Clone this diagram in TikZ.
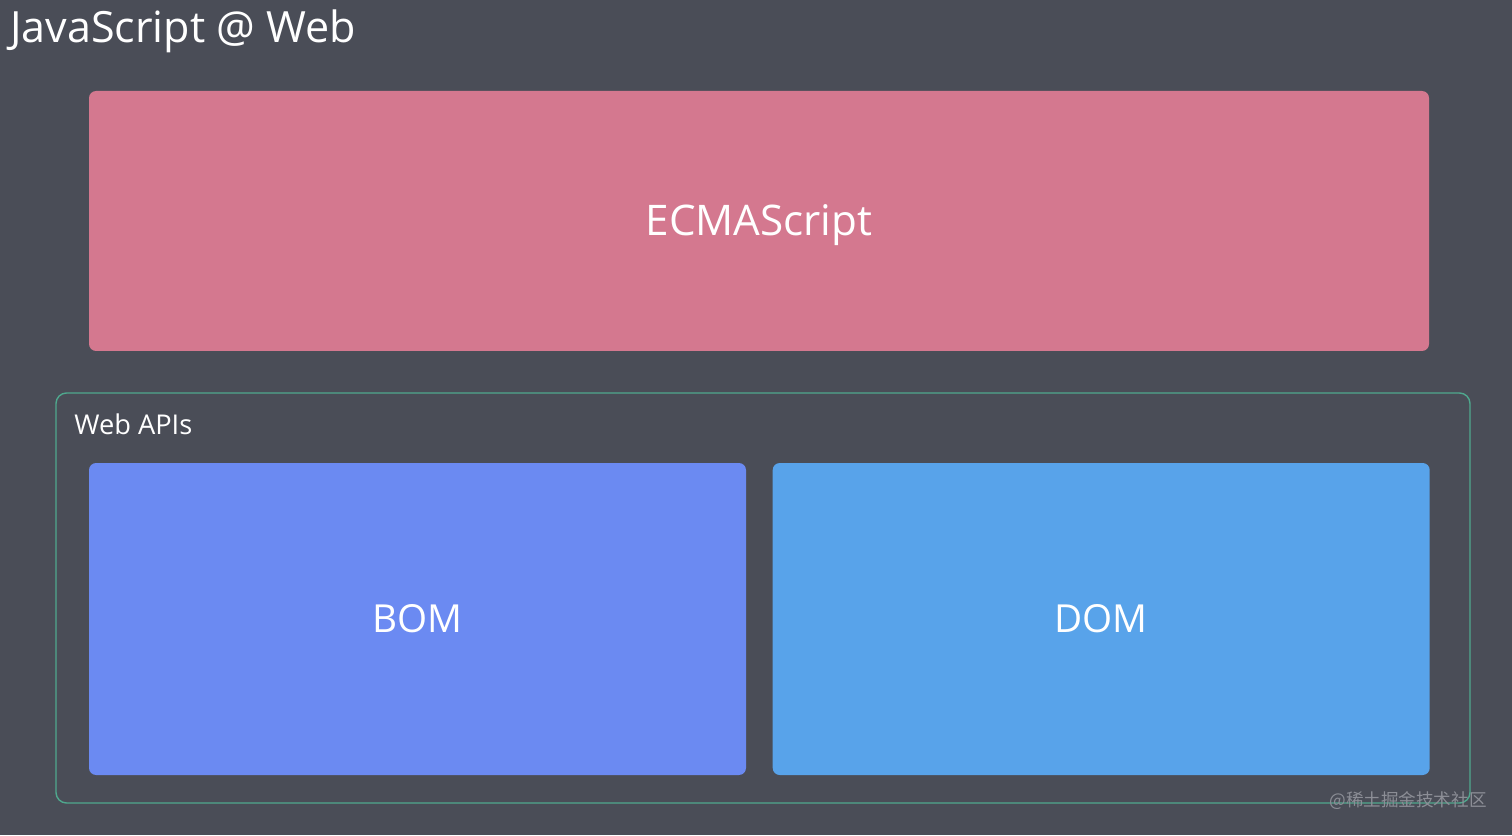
\documentclass[tikz,border=0pt]{standalone}
\usepackage{fontspec}
\setmainfont{Open Sans}
\newfontfamily\cjk{Noto Sans CJK SC}
\usepackage{xcolor}
\usetikzlibrary{positioning}

\definecolor{slate}{HTML}{4A4D57}
\definecolor{ecmapink}{HTML}{D4788F}
\definecolor{bomblue}{HTML}{6B8AF2}
\definecolor{domblue}{HTML}{58A3EA}
\definecolor{framegreen}{HTML}{4FA88E}
\definecolor{markgray}{HTML}{8C8E96}

\tikzset{
  layer/.style = {rounded corners=4pt, inner sep=0pt, text=white,
                  text height=17pt, text depth=0pt,
                  font=\fontsize{24}{28}\selectfont},
  apibox/.style = {layer, text height=15.6pt,
                   font=\fontsize{22}{26}\selectfont,
                   minimum width = 13.14 cm, minimum height = 6.24 cm},
}

\begin{document}
\begin{tikzpicture}
  % Background and page size
  \fill[slate] (0cm, 0cm) rectangle (30.24cm, 16.70cm);
  \useasboundingbox (0cm, 0cm) rectangle (30.24cm, 16.70cm);

  % Title
  \node(title)[anchor = base west, inner sep = 0pt, text = white,
               font = \fontsize{24.5}{29}\selectfont] at (0.2cm, 15.84cm) {JavaScript @ Web};

  % Language core
  \node(ecma)[layer, fill=ecmapink,
              minimum width = 26.8 cm, minimum height = 5.2 cm] at (15.18cm, 12.28cm) {ECMAScript};

  % Web APIs frame
  \node(webapis)[draw=framegreen, line width=0.8pt, rounded corners=6pt,
                 minimum width = 28.28 cm, minimum height = 8.2 cm] at (15.26cm, 4.74cm) {};
  \node(apilabel)[anchor = base west, inner sep = 0pt, text = white,
                  font = \fontsize{15.5}{19}\selectfont] at (1.48cm, 8.0cm) {Web APIs};

  % Browser and document models
  \node(bom)[apibox, fill=bomblue] at (8.35cm, 4.32cm) {BOM};
  \node[right = 0.52cm of bom] (dom)[apibox, fill=domblue] {DOM};

  % Watermark
  \node(mark)[anchor = base east, inner sep = 0pt, text = markgray,
              font = \cjk\fontsize{10}{12}\selectfont] at (29.74cm, 0.58cm) {@稀土掘金技术社区};

\end{tikzpicture}
\end{document}
